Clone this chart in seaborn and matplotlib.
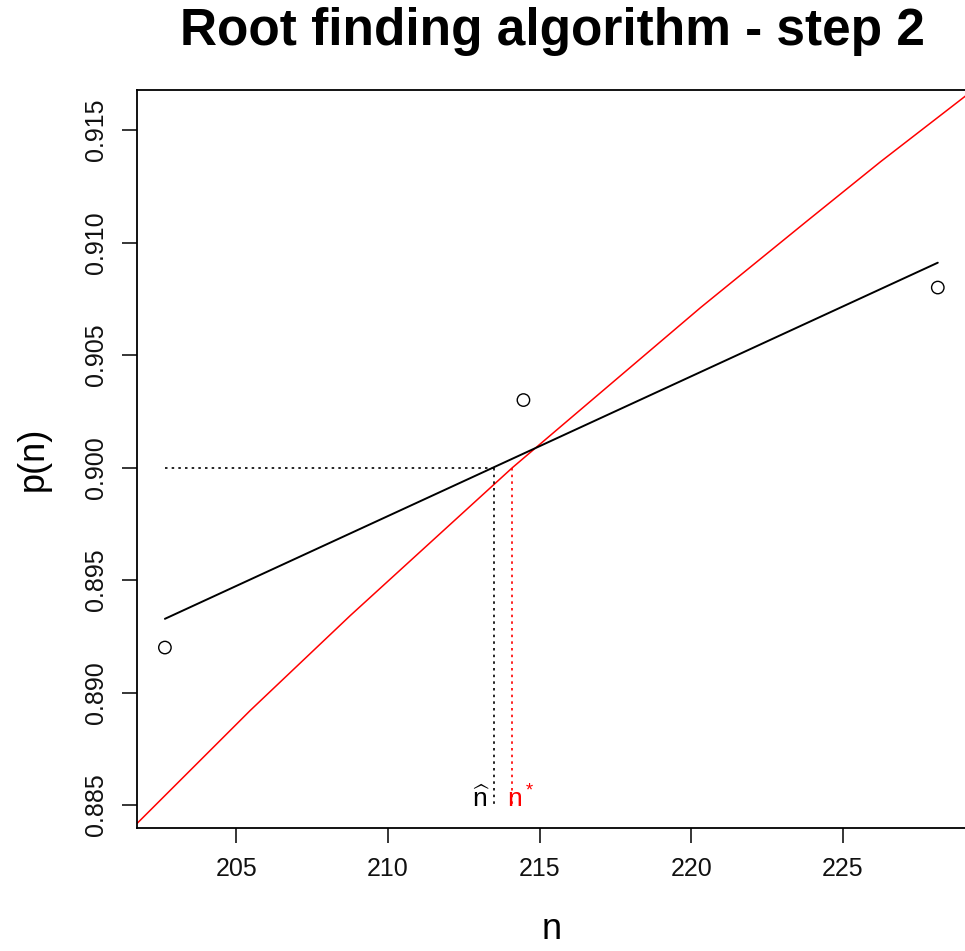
import matplotlib
matplotlib.use("Agg")
import matplotlib.pyplot as plt
import seaborn as sns
import numpy as np
import pandas as pd

# Observed points
obs_n = [202.65, 214.47, 228.13]
obs_p = [0.892, 0.903, 0.908]

# Red (true) curve
curve_n = [201.73, 205.46, 208.76, 214.11, 220.31, 223.84, 226.25, 229.06]
curve_p = [0.88418, 0.88920, 0.89342, 0.90000, 0.90711, 0.91098, 0.91360, 0.91653]

target = 0.9
n_hat = 213.5
n_star = 214.1

x_ticks = [205, 210, 215, 220, 225]
y_ticks = [0.885, 0.890, 0.895, 0.900, 0.905, 0.910, 0.915]

sns.set_theme(style="ticks")
plt.rcParams['font.family'] = ['Liberation Sans', 'DejaVu Sans']
plt.rcParams['mathtext.fontset'] = 'custom'
plt.rcParams['mathtext.rm'] = 'Liberation Sans'
plt.rcParams['mathtext.it'] = 'Liberation Sans'
plt.rcParams['text.color'] = 'black'
plt.rcParams['axes.labelcolor'] = 'black'

fig = plt.figure(figsize=(9.65, 9.51), dpi=100)
ax = fig.add_axes([137/965, 1-828/951, (966-137)/965, (828-90)/951])

obs = pd.DataFrame({"n": obs_n, "p": obs_p})
curve = pd.DataFrame({"n": curve_n, "p": curve_p})

sns.lineplot(data=curve, x="n", y="p", color="red", lw=1.1, ax=ax, sort=True)
sns.regplot(data=obs, x="n", y="p", ci=None, scatter=False, truncate=True,
            line_kws=dict(color="black", lw=1.4), ax=ax)
sns.scatterplot(data=obs, x="n", y="p", marker="o", s=80, facecolor="none",
                edgecolor="black", linewidth=1.0, ax=ax, zorder=5)

ax.plot([obs_n[0], n_hat], [target, target], color="black", ls=(0, (1.5, 2.5)), lw=1.2)
ax.plot([n_hat, n_hat], [target, 0.885], color="black", ls=(0, (1.5, 2.5)), lw=1.2)
ax.plot([n_star, n_star], [target, 0.885], color="red", ls=(0, (1.5, 2.5)), lw=1.2)

ax.text(n_hat - 0.42, 0.8849, r"$\widehat{n}$", color="black", fontsize=19,
        ha="center", va="baseline")
ax.text(n_star + 0.28, 0.8849, r"$n^*$", color="red", fontsize=19,
        ha="center", va="baseline")

ax.set_xlim(201.73, 229.06)
ax.set_ylim(0.88398, 0.91678)
ax.set_xticks(x_ticks)
ax.set_xticklabels([str(t) for t in x_ticks])
ax.set_yticks(y_ticks)
ax.set_yticklabels([f"{t:.3f}" for t in y_ticks], rotation=90, va="center")

ax.tick_params(axis="both", length=11, width=1.1, labelsize=18, pad=10,
               color="black", labelcolor="#111111", direction="out")
for s in ["left", "top", "bottom", "right"]:
    ax.spines[s].set_color("black")
    ax.spines[s].set_linewidth(1.3)

ax.set_xlabel("n", fontsize=26, labelpad=22, color="black")
ax.set_ylabel("p(n)", fontsize=26, labelpad=24, color="black")
fig.text(552/965, 1-32/951, "Root finding algorithm - step 2", fontsize=37,
         fontweight="bold", ha="center", va="center", color="black")

fig.savefig("out.png", dpi=100, facecolor="white")
